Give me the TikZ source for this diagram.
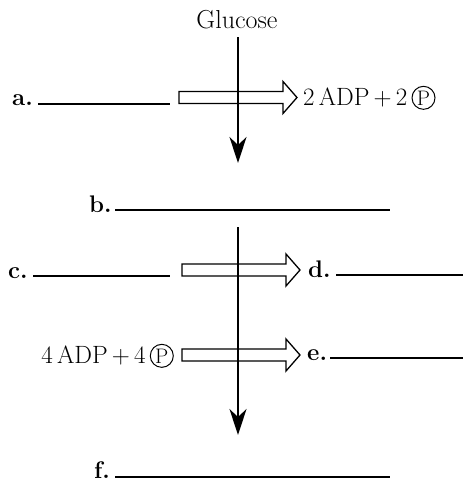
\documentclass[tikz,border=0pt]{standalone}
\usetikzlibrary{arrows.meta}
\newcommand\circP{\tikz[baseline=(cp.base)]\node[draw,circle,inner sep=0pt,minimum size=23pt,line width=1pt] (cp) {\fontsize{21}{21}\selectfont P};}
\begin{document}
\begin{tikzpicture}[x=1pt,y=-1pt,
  txt/.style={inner sep=0pt,font=\fontsize{25}{30}\selectfont},
  lbl/.style={inner sep=0pt,anchor=base west,font=\fontsize{24}{28}\selectfont\bfseries},
  blank/.style={line width=1.2pt},
  flow/.style={line width=1.8pt,-{Stealth[length=26pt,width=17pt,inset=8pt]}},
  hollow/.pic={\draw[line width=1.3pt,line join=miter] (0,-6) -- (104,-6) -- (104,-16) -- (118,0) -- (104,16) -- (104,6) -- (0,6) -- cycle;}]
\useasboundingbox (0,0) rectangle (463,485);

% top: glucose
\node[txt,anchor=base,font=\fontsize{26}{30}\selectfont] (glu) at (237,28) {Glucose};
\node[lbl] (a) at (12,105) {a.};
\coordinate (a1) at (38,104); \coordinate (a2) at (170,104);
\draw[blank] (a1) -- (a2);
\pic at (179,97.5) {hollow};
\node[txt,anchor=base west] (adp2) at (303,105) {2\,ADP\,+\,2\,\circP};
\coordinate (v1s) at (238,37); \coordinate (v1e) at (238,163);
\draw[flow] (v1s) -- (v1e);

% b
\node[lbl] (b) at (89,212) {b.};
\coordinate (b1) at (115,210); \coordinate (b2) at (390,210);
\draw[blank] (b1) -- (b2);

% c, d
\node[lbl] (c) at (8,278) {c.};
\coordinate (c1) at (33,276); \coordinate (c2) at (170,276);
\draw[blank] (c1) -- (c2);
\pic at (182,270) {hollow};
\node[lbl] (d) at (308,277) {d.};
\coordinate (d1) at (336,275); \coordinate (d2) at (463,275);
\draw[blank] (d1) -- (d2);

% e
\node[txt,anchor=base east] (adp4) at (174,363) {4\,ADP\,+\,4\,\circP};
\pic at (182,355) {hollow};
\node[lbl] (e) at (307,360) {e.};
\coordinate (e1) at (330,358); \coordinate (e2) at (463,358);
\draw[blank] (e1) -- (e2);

% second vertical arrow
\coordinate (v2s) at (238,227); \coordinate (v2e) at (238,435);
\draw[flow] (v2s) -- (v2e);

% f
\node[lbl] (f) at (94,478) {f.};
\coordinate (f1) at (115,477); \coordinate (f2) at (390,477);
\draw[blank] (f1) -- (f2);
\end{tikzpicture}
\end{document}
